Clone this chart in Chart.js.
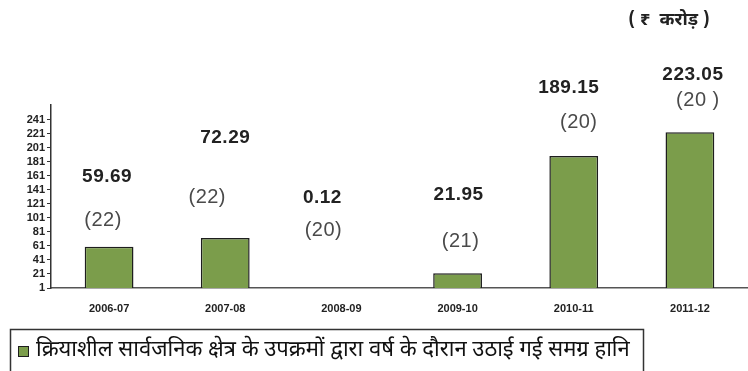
<!DOCTYPE html>
<html>
<head>
<meta charset="utf-8">
<script src="https://cdn.jsdelivr.net/npm/chart.js@4.4.1/dist/chart.umd.min.js"></script>
<style>
  html, body { margin: 0; padding: 0; background: #fff; }
  #wrap { width: 748px; height: 371px; position: relative; }
</style>
</head>
<body>
<div id="wrap"><canvas id="c" width="748" height="371"></canvas></div>
<script>
// Financial years
const years = ['2006-07', '2007-08', '2008-09', '2009-10', '2010-11', '2011-12'];
// Aggregate losses (₹ crore)
const losses = [59.69, 72.29, 0.12, 21.95, 189.15, 223.05];
// Number of loss-making working PSUs in each year
const unitCounts = ['(22)', '(22)', '(20)', '(21)', '(20)', '(20 )'];
// Y axis tick values
const yTicks = [1, 21, 41, 61, 81, 101, 121, 141, 161, 181, 201, 221, 241];

const seriesName = 'क्रियाशील सार्वजनिक क्षेत्र के उपक्रमों द्वारा वर्ष के दौरान उठाई गई समग्र हानि';
const unitNote = '( ₹  करोड़ )';

// Hand-placed annotation anchors: [dx from bar centre, y] for value and count text
const valuePos = [[-2, 177], [0, 138], [-19, 198], [1, 195], [-5, 88], [3, 75]];
const countPos = [[-6, 220], [-18, 197], [-18, 230], [3, 241], [5, 122], [8, 100]];

const BAR_FILL = '#7b9d4b';
const BAR_EDGE = '#1e1e1e';
const SANS = '"Liberation Sans", Arial, sans-serif';
const DEVA = '"Noto Sans Devanagari", "Lohit Devanagari", Mangal, "Noto Sans", "FreeSans", sans-serif';

const annotate = {
  id: 'annotate',
  afterDatasetsDraw(chart) {
    const ctx = chart.ctx;
    const meta = chart.getDatasetMeta(0);
    ctx.save();
    ctx.textAlign = 'center';
    ctx.textBaseline = 'middle';
    meta.data.forEach((bar, i) => {
      ctx.fillStyle = '#222';
      ctx.font = 'bold 19px ' + SANS;
      ctx.letterSpacing = '0.5px';
      ctx.fillText(losses[i].toFixed(2), bar.x + valuePos[i][0], valuePos[i][1]);
      ctx.fillStyle = '#4a4a4a';
      ctx.font = '20px ' + SANS;
      ctx.letterSpacing = '0.5px';
      ctx.fillText(unitCounts[i], bar.x + countPos[i][0], countPos[i][1]);
    });
    ctx.letterSpacing = '0px';

    // unit note, top right
    ctx.fillStyle = '#222';
    ctx.font = 'bold 18px ' + DEVA;
    ctx.fillText(unitNote, 669, 22);

    // legend box
    ctx.strokeStyle = '#333';
    ctx.lineWidth = 1.5;
    ctx.strokeRect(10.5, 329.5, 633, 60);
    ctx.fillStyle = BAR_FILL;
    ctx.fillRect(18, 346, 11, 11);
    ctx.strokeStyle = BAR_EDGE;
    ctx.lineWidth = 1;
    ctx.strokeRect(18.5, 346.5, 10, 10);
    ctx.fillStyle = '#111';
    ctx.textAlign = 'left';
    ctx.font = '22px ' + DEVA;
    ctx.fillText(seriesName, 36, 352);
    ctx.restore();
  }
};

new Chart(document.getElementById('c'), {
  type: 'bar',
  data: {
    labels: years,
    datasets: [{
      label: seriesName,
      data: losses,
      backgroundColor: BAR_FILL,
      borderColor: BAR_EDGE,
      borderWidth: 1.5,
      borderSkipped: 'bottom',
      categoryPercentage: 1,
      barPercentage: 0.42
    }]
  },
  options: {
    responsive: false,
    animation: false,
    events: [],
    layout: { padding: { top: 105, right: -9, bottom: 0, left: 0 } },
    plugins: { legend: { display: false }, tooltip: { enabled: false } },
    scales: {
      x: {
        grid: { display: false, drawTicks: false },
        border: { display: true, color: '#555', width: 1.5 },
        ticks: {
          color: '#222',
          font: { family: SANS, size: 11, weight: 'bold' },
          padding: 14,
          maxRotation: 0
        },
        afterFit(scale) { scale.height = 83; }
      },
      y: {
        min: 1,
        max: 262,
        grid: { display: true, drawOnChartArea: false, drawTicks: true, tickLength: 4, color: '#333' },
        border: { display: true, color: '#333', width: 1.5 },
        ticks: {
          color: '#222',
          font: { family: SANS, size: 11, weight: 'bold' },
          padding: 2,
          autoSkip: false
        },
        afterBuildTicks(scale) { scale.ticks = yTicks.map(v => ({ value: v })); },
        afterFit(scale) { scale.width = 51; }
      }
    }
  },
  plugins: [annotate]
});
</script>
</body>
</html>
